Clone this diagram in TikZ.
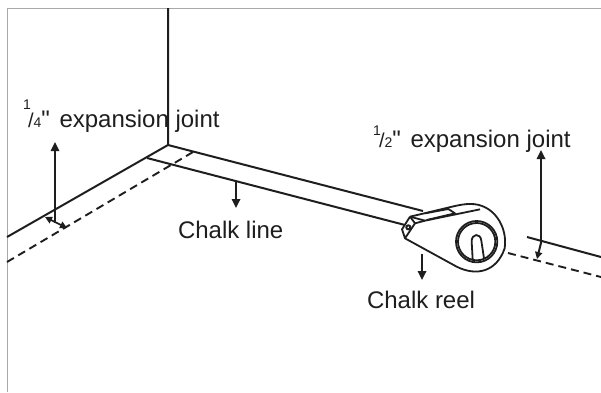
\documentclass[tikz,border=0pt]{standalone}
\usepackage{fontspec}
\setmainfont{Liberation Sans}
\newfontfamily\plainfont{Liberation Sans}
\usetikzlibrary{arrows.meta}
\definecolor{ink}{HTML}{1E1E1E}
\definecolor{frameg}{HTML}{A8A8A8}
\tikzset{
  lbl/.style={anchor=base west,inner sep=0pt,outer sep=0pt,text=ink,font=\plainfont\fontsize{24}{24}\selectfont},
  small/.style={anchor=base west,inner sep=0pt,outer sep=0pt,text=ink,font=\plainfont\fontsize{14}{14}\selectfont},
  wall/.style={draw=ink,line width=2pt},
  hidden/.style={draw=ink,line width=1.9pt,dash pattern=on 8pt off 5pt},
  pointer/.style={draw=ink,line width=1.7pt,-{Triangle[length=9pt,width=8.5pt]}},
  tiny/.style={draw=ink,line width=1.7pt,{Triangle[length=7pt,width=7pt]}-{Triangle[length=7pt,width=7pt]}},
  reel/.style={draw=ink,line width=1.8pt,line join=round}
}
\begin{document}
\begin{tikzpicture}[x=1pt,y=-1pt]
\useasboundingbox (0,0) rectangle (601,392);
\fill[white] (0,0) rectangle (601,392);
\draw[frameg,line width=1pt] (7,392) -- (7,8) -- (601,8);
% walls
\coordinate (corner) at (168,145);
\draw[wall] (168,8) -- (corner) -- (7,237);
\draw[hidden] (7,262) -- (193,152);
\draw[wall] (corner) -- (423,211);
\draw[wall] (147,158) -- (405,225);
\draw[wall] (527,237) -- (601,257);
\draw[hidden] (508,253) -- (601,277);
% pointers
\draw[pointer] (55,223) -- (55,142);
\draw[tiny] (45,217) -- (67,228);
\draw[pointer] (541,243) -- (541,150);
\draw[draw=ink,line width=2pt,-{Triangle[length=7pt,width=7pt]}] (541,243) -- (537,259);
\draw[pointer] (236,182) -- (236,208);
\draw[pointer] (422,254) -- (422,280);
% reel
\begin{scope}[shift={(380,170)},x=0.3333pt,y=-0.3333pt]
  \fill[white] (75,205) -- (230,290) .. controls (290,320) and (350,305) .. (374,235)
     .. controls (384,170) and (340,100) .. (270,102) .. controls (240,102) and (220,108) .. (90,140) -- cycle;
  \draw[reel] (75,205) -- (230,290) .. controls (290,320) and (350,305) .. (374,235)
     .. controls (384,170) and (340,100) .. (270,102) .. controls (240,102) and (220,110) .. (90,140);
  \draw[reel] (90,140) -- (66,178) -- (75,205) -- (105,160) -- (90,140);
  \draw[reel] (105,160) -- (135,152) -- (300,118);
  \draw[reel] (90,140) -- (135,152);
  \draw[reel] (135,130) -- (205,117) -- (225,130) -- (140,150);
  \draw[ink,line width=2pt] (85,172) circle (6);
  \draw[reel] (290,215) circle (62);
  \draw[reel] (290,215) circle (56);
  \draw[reel] (278,268) -- (275,215) .. controls (274,190) and (302,188) .. (304,212) -- (312,265);
\end{scope}
% labels
\node[small] (oneq) at (23,109) {1};
\node[lbl] (jq) at (28,127) {{\fontsize{20}{20}\selectfont /}\raisebox{0pt}{\fontsize{14}{14}\selectfont 4}" \kern3pt expansion joint};
\node[small] (oneh) at (373,135) {1};
\node[lbl] (jh) at (379,147) {{\fontsize{20}{20}\selectfont /}\raisebox{0pt}{\fontsize{14}{14}\selectfont 2}" \kern3pt expansion joint};
\node[lbl] (cl) at (178,238) {Chalk line};
\node[lbl] (cr) at (367,308) {Chalk reel};
\end{tikzpicture}
\end{document}
